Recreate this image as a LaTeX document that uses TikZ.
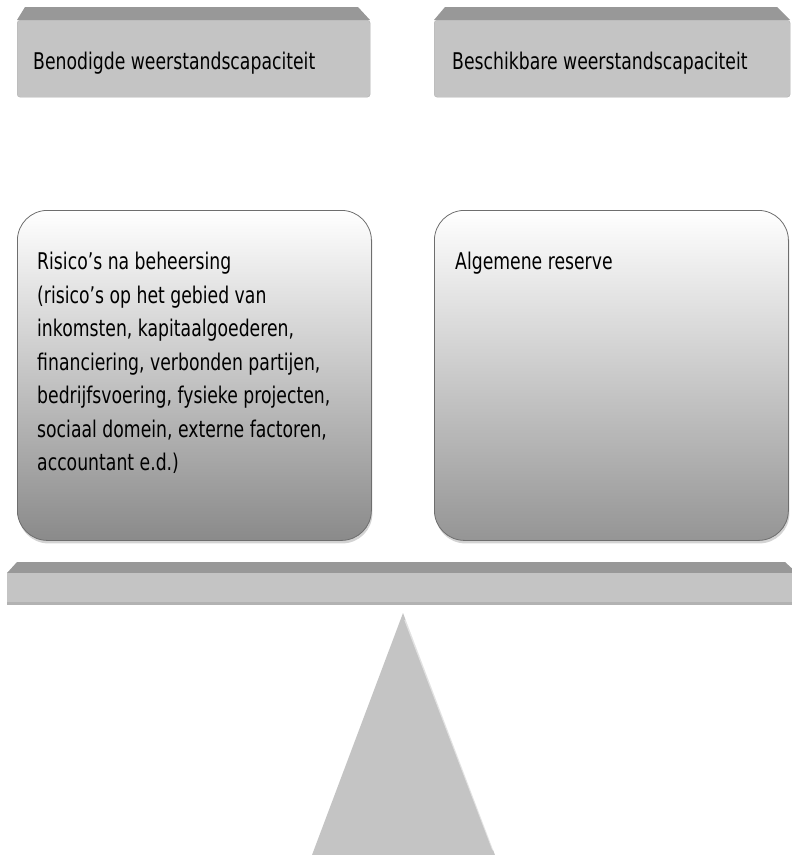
\documentclass[tikz,border=0pt]{standalone}
\usepackage{fontspec}
\newfontfamily\diagfont[FakeStretch=0.75]{DejaVu Sans}
\definecolor{frontgray}{HTML}{C4C4C4}
\definecolor{topgray}{HTML}{989898}
\definecolor{edgegray}{HTML}{B2B2B2}
\definecolor{boxline}{HTML}{6E6E6E}
\definecolor{riskbottom}{HTML}{8A8A8A}
\definecolor{reservebottom}{HTML}{959595}
\usetikzlibrary{positioning,shadows}

\begin{document}
\begin{tikzpicture}[x=1pt, y=-1pt,
    font=\diagfont\fontsize{23}{33.5}\selectfont,
    titlebox/.style={fill=frontgray, draw=edgegray, rounded corners=3pt,
                     minimum width=353pt, minimum height=77pt, inner sep=0pt},
    bevel/.style={fill=topgray, draw=none},
    contentbox/.style={draw=boxline, thick, rounded corners=30pt,
                       minimum width=354pt, minimum height=330pt, inner sep=0pt,
                       top color=white,
                       drop shadow={shadow xshift=1pt, shadow yshift=-3pt, opacity=0.35}},
    label/.style={anchor=north west, inner sep=0pt, align=left, text=black}]

  \useasboundingbox (0,0) rectangle (792,855);

  % top titles
  \fill[bevel] (25,7) -- (358,7) -- (370,20) -- (17,20) -- cycle;
  \node[titlebox, anchor=north west] (needtitle) at (17,20) {};
  \node[label] (needtext) at (33,52) {Benodigde weerstandscapaciteit};

  \fill[bevel] (445,7) -- (777,7) -- (790,20) -- (434,20) -- cycle;
  \node[titlebox, anchor=north west, minimum width=356pt] (availtitle) at (434,20) {};
  \node[label] (availtext) at (452,52) {Beschikbare weerstandscapaciteit};

  % content boxes
  \node[contentbox, bottom color=riskbottom, anchor=north west] (riskbox) at (17,210) {};
  \node[label] (risktext) at (37,252) {Risico’s na beheersing\\
    (risico’s op het gebied van\\
    inkomsten, kapitaalgoederen,\\
    financiering, verbonden partijen,\\
    bedrijfsvoering, fysieke projecten,\\
    sociaal domein, externe factoren,\\
    accountant e.d.)};

  \node[contentbox, bottom color=reservebottom, anchor=north west] (reservebox) at (434,210) {};
  \node[label] (reservetext) at (455,252) {Algemene reserve};

  % beam
  \fill[bevel] (17,562) -- (785,562) -- (797,573) -- (7,573) -- cycle;
  \fill[frontgray] (7,573) rectangle (792,605);
  \fill[edgegray] (7,602) rectangle (792,605);
  \coordinate (beam) at (400,589);

  % pivot
  \fill[frontgray] (403,613) -- (495,855) -- (312,855) -- cycle;
  \draw[white, opacity=0.5, line width=1.5pt] (405,620) -- (493,850);
  \coordinate (pivot) at (403,613);
\end{tikzpicture}
\end{document}
